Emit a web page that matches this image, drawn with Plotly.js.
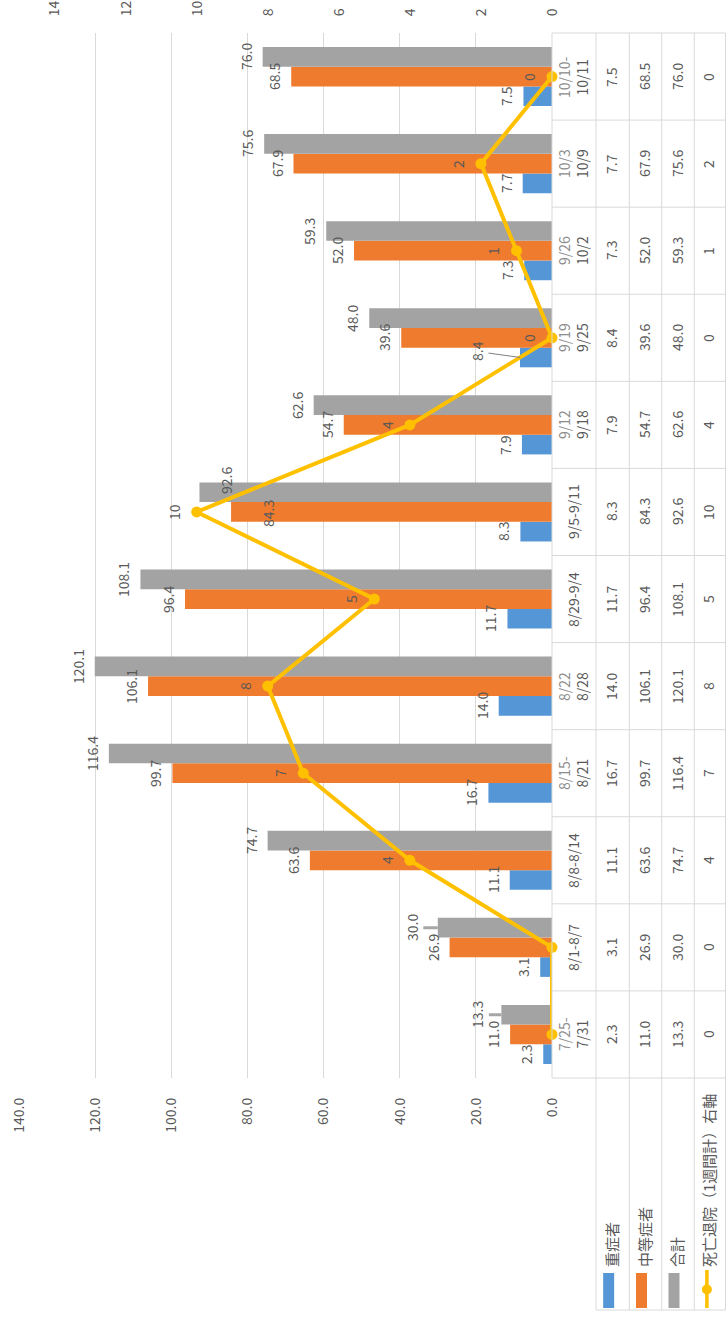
<!DOCTYPE html>
<html>
<head>
<meta charset="utf-8">
<script src="https://cdn.plot.ly/plotly-3.0.1.min.js"></script>
<style>
  html, body { margin:0; padding:0; background:#fff; overflow:hidden; width:726px; height:1319px; }
  #chart { position:absolute; left:0; top:0; width:1319px; height:726px;
           transform-origin:0 0; transform: translate(0px, 1319px) rotate(-90deg); }
</style>
</head>
<body>
<div id="chart"></div>
<script>
// ---------- data ----------
const categories = ['7/25-7/31','8/1-8/7','8/8-8/14','8/15-8/21','8/22-8/28','8/29-9/4',
                    '9/5-9/11','9/12-9/18','9/19-9/25','9/26-10/2','10/3-10/9','10/10-10/11'];
const categoryTableLabels = ['7/25-\n7/31','8/1-8/7','8/8-8/14','8/15-\n8/21','8/22\n8/28','8/29-9/4',
                             '9/5-9/11','9/12\n9/18','9/19\n9/25','9/26\n10/2','10/3\n10/9','10/10-\n10/11'];
const severe   = [2.3, 3.1, 11.1, 16.7, 14.0, 11.7, 8.3, 7.9, 8.4, 7.3, 7.7, 7.5];
const moderate = [11.0, 26.9, 63.6, 99.7, 106.1, 96.4, 84.3, 54.7, 39.6, 52.0, 67.9, 68.5];
const total    = [13.3, 30.0, 74.7, 116.4, 120.1, 108.1, 92.6, 62.6, 48.0, 59.3, 75.6, 76.0];
const deaths   = [0, 0, 4, 7, 8, 5, 10, 4, 0, 1, 2, 0];
const seriesNames = ['重症者', '中等症者', '合計', '死亡退院（1週間計）右軸'];
const leftTicks  = [0, 20, 40, 60, 80, 100, 120, 140];
const rightTicks = [0, 2, 4, 6, 8, 10, 12, 14];

// ---------- styles / layout constants ----------
const COLORS = ['#5597D6', '#EF7B2E', '#A3A3A3', '#FFC000'];
const TXT = '#595959';
const GRID = '#D9D9D9';
const FONT = "'Noto Sans CJK JP', 'Noto Sans', sans-serif";
const W = 1319, H = 726, L = 241, R = 33, T = 19, B = 174;
const plotW = W - L - R, plotH = H - T - B;
const BARGAP = 0.322;
const px = v => (v - L) / plotW;          // pixel x -> paper x
const py = v => (H - B - v) / plotH;      // pixel y -> paper y

// label tweaks (pixel offsets) for labels moved in the original
const labelAdjust = {
  '2-0': {ax: 0, ay: -24, arrow: 3},
  '2-1': {ax: 0, ay: -26, arrow: 3},
  '2-6': {dx: 12, dy: -27},
  '1-6': {dx: -2, dy: -37},
  '0-8': {ax: 6, ay: -43, arrow: 1}
};

// ---------- traces ----------
const barSeries = [severe, moderate, total];
const traces = barSeries.map((vals, k) => ({
  type: 'bar', name: seriesNames[k], x: categories, y: vals,
  marker: {color: COLORS[k]}, showlegend: false, hoverinfo: 'skip'
}));
traces.push({
  type: 'scatter', mode: 'lines+markers', name: seriesNames[3], x: categories, y: deaths,
  yaxis: 'y2', line: {color: COLORS[3], width: 4}, marker: {color: COLORS[3], size: 11},
  cliponaxis: false, showlegend: false, hoverinfo: 'skip'
});

// ---------- annotations ----------
const ann = [];
const barW = (1 - BARGAP) / 3;
barSeries.forEach((vals, k) => {
  vals.forEach((v, i) => {
    const a = {x: i + (k - 1) * barW, y: v, xref: 'x', yref: 'y', text: v.toFixed(1),
      font: {family: FONT, size: 14, color: TXT}, showarrow: false, yanchor: 'middle', yshift: 17};
    const adj = labelAdjust[k + '-' + i];
    if (adj) {
      if (adj.arrow) {
        Object.assign(a, {showarrow: true, arrowhead: 0, arrowwidth: adj.arrow,
          arrowcolor: adj.arrow > 1 ? '#A6A6A6' : '#808080', ax: adj.ax, ay: adj.ay,
          standoff: 0, yshift: 0});
      } else {
        a.yshift = adj.dy; a.xshift = adj.dx;
      }
    }
    ann.push(a);
  });
});
deaths.forEach((v, i) => {
  if (i < 2) return; // labels hidden behind bars in the original
  ann.push({x: i, y: v, xref: 'x', yref: 'y2', text: String(v), showarrow: false,
    font: {family: FONT, size: 14, color: TXT}, yanchor: 'middle', yshift: 23});
});

// data table
const rowEdges = [552, 596, 629.3, 661.7, 694.3, 725.5];
const rowMid = k => (rowEdges[k] + rowEdges[k + 1]) / 2;
categoryTableLabels.forEach((lab, i) => {
  const parts = lab.split('\n');
  const text = parts.length > 1
    ? '<span style="color:#8C8C8C">' + parts[0] + '</span><br>' + parts[1] : parts[0];
  ann.push({x: i, y: py(rowMid(0) - 1), xref: 'x', yref: 'paper', text: text, showarrow: false,
    font: {family: FONT, size: 14, color: TXT}, yanchor: 'middle'});
});
const tableSeries = [severe, moderate, total, deaths];
tableSeries.forEach((vals, k) => {
  vals.forEach((v, i) => {
    ann.push({x: i, y: py(rowMid(k + 1) - 1.5), xref: 'x', yref: 'paper',
      text: k < 3 ? v.toFixed(1) : String(v), showarrow: false,
      font: {family: FONT, size: 14, color: TXT}, yanchor: 'middle'});
  });
  ann.push({x: px(50), y: py(rowMid(k + 1) - 1.5), xref: 'paper', yref: 'paper', text: seriesNames[k],
    showarrow: false, xanchor: 'left', yanchor: 'middle', font: {family: FONT, size: 15, color: TXT}});
});

// ---------- shapes (table grid + legend keys) ----------
const shapes = [];
const line = (x0, y0, x1, y1) => ({type: 'line', xref: 'paper', yref: 'paper',
  x0: x0, y0: y0, x1: x1, y1: y1, line: {color: GRID, width: 1}, layer: 'above'});
shapes.push(line(0, py(552), 1, py(552)));
rowEdges.slice(1).forEach(e => shapes.push(line(px(9), py(e), 1, py(e))));
for (let k = 0; k <= categories.length; k++) {
  shapes.push(line(k / categories.length, py(552), k / categories.length, py(725.5)));
}
shapes.push(line(px(9), py(596), px(9), py(725.5)));
for (let k = 0; k < 3; k++) {
  const yc = rowMid(k + 1) - 4;
  shapes.push({type: 'rect', xref: 'paper', yref: 'paper', x0: px(11), x1: px(46),
    y0: py(yc - 5.5), y1: py(yc + 5.5), fillcolor: COLORS[k], line: {width: 0}});
}
const ly = rowMid(4) - 3;
shapes.push({type: 'line', xref: 'paper', yref: 'paper', x0: px(11), x1: px(49),
  y0: py(ly), y1: py(ly), line: {color: COLORS[3], width: 3.5}});
shapes.push({type: 'circle', xref: 'paper', yref: 'paper', x0: px(24.5), x1: px(34.5),
  y0: py(ly - 5), y1: py(ly + 5), fillcolor: COLORS[3], line: {width: 0}});

// ---------- layout ----------
const layout = {
  width: W, height: H, margin: {l: L, r: R, t: T, b: B, pad: 0},
  paper_bgcolor: '#fff', plot_bgcolor: '#fff',
  font: {family: FONT, size: 14, color: TXT},
  barmode: 'group', bargap: BARGAP, bargroupgap: 0, showlegend: false,
  xaxis: {type: 'category', range: [-0.5, categories.length - 0.5], showticklabels: false,
    showgrid: false, zeroline: false, showline: false, ticks: ''},
  yaxis: {range: [0, 140], tickvals: leftTicks, tickformat: '.1f', showgrid: true,
    gridcolor: GRID, gridwidth: 1, zeroline: false, showline: false,
    ticks: 'outside', ticklen: 16, tickcolor: 'rgba(0,0,0,0)',
    tickfont: {family: FONT, size: 14, color: TXT}},
  yaxis2: {range: [0, 15], tickvals: rightTicks, overlaying: 'y', side: 'right',
    showgrid: false, zeroline: false, showline: false,
    ticks: 'outside', ticklen: 13, tickcolor: 'rgba(0,0,0,0)',
    tickfont: {family: FONT, size: 14, color: TXT}},
  annotations: ann, shapes: shapes
};

Plotly.newPlot('chart', traces, layout, {staticPlot: true, displayModeBar: false});
</script>
</body>
</html>
